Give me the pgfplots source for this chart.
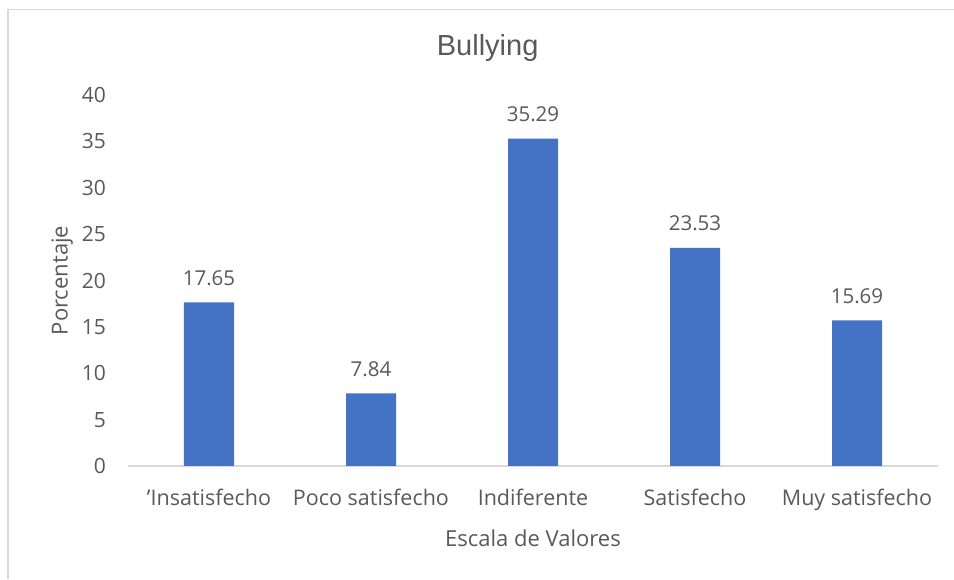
\documentclass[border=0pt]{standalone}
\usepackage{pgfplots}
\pgfplotsset{compat=1.18}
\usepackage{fontspec}
\setmainfont{Open Sans}
\newfontfamily\titlefont{Liberation Sans}
\definecolor{barblue}{HTML}{4472C4}
\definecolor{txt}{HTML}{595959}
\definecolor{axgray}{HTML}{D9D9D9}
\begin{document}
\begin{tikzpicture}[x=1pt,y=1pt]
\path[use as bounding box] (0,0) rectangle (954,579);
\draw[axgray, line width=1.5pt] (8,0) -- (8,569.5) -- (954,569.5);
\begin{axis}[
  at={(128pt,113pt)}, anchor=south west,
  scale only axis, width=810pt, height=371pt,
  xmin=-0.5, xmax=4.5, ymin=0, ymax=40,
  ytick={0,5,...,40},
  xtick={0,1,2,3,4},
  xticklabels={’Insatisfecho, Poco satisfecho, Indiferente, Satisfecho, Muy satisfecho},
  axis lines*=left,
  y axis line style={draw=none},
  x axis line style={draw=axgray, line width=1.3pt, -},
  major tick length=0pt,
  tick style={draw=none},
  /pgf/number format/assume math mode=true,
  yticklabel style={anchor=east, inner sep=0pt, xshift=-22pt, font=\fontsize{21}{21}\selectfont, text=txt},
  xticklabel style={anchor=base, inner sep=0pt, yshift=-39pt, font=\fontsize{21.5}{21.5}\selectfont, text=txt},
  title={Bullying},
  title style={at={(0.444,1.09)}, anchor=base, inner sep=0pt, font=\titlefont\fontsize{29}{29}\selectfont, text=txt},
  xlabel={Escala de Valores},
  xlabel style={at={(0.5,-0.2183)}, anchor=base, inner sep=0pt, font=\fontsize{22}{22}\selectfont, text=txt},
  ylabel={Porcentaje},
  ylabel style={at={(-0.0745,0.5)}, anchor=base, inner sep=0pt, font=\fontsize{22}{22}\selectfont, text=txt},
  ybar, bar width=50pt,
  nodes near coords={\pgfmathprintnumber[fixed, fixed zerofill, precision=2]{\pgfplotspointmeta}},
  nodes near coords style={anchor=base, inner sep=0pt, yshift=17pt, font=\fontsize{20.5}{20.5}\selectfont, text=txt},
]
\addplot[fill=barblue, draw=none] coordinates {(0,17.65) (1,7.84) (2,35.29) (3,23.53) (4,15.69)};
\end{axis}
\end{tikzpicture}
\end{document}
